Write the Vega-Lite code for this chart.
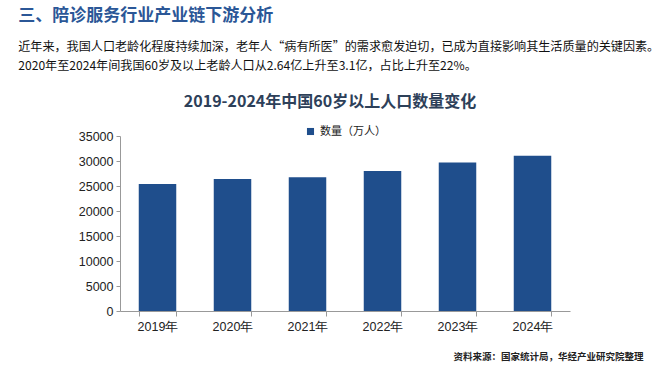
{
  "$schema": "https://vega.github.io/schema/vega-lite/v6.json",
  "padding": {"left": 18, "top": 6, "right": 2, "bottom": 4},
  "background": "white",
  "title": {
    "text": "三、陪诊服务行业产业链下游分析",
    "subtitle": ["近年来，我国人口老龄化程度持续加深，老年人“病有所医”的需求愈发迫切，已成为直接影响其生活质量的关键因素。", "2020年至2024年间我国60岁及以上老龄人口从2.64亿上升至3.1亿，占比上升至22%。"],
    "anchor": "start",
    "dx": -60,
    "font": "Noto Sans CJK SC",
    "fontSize": 17,
    "fontWeight": "bold",
    "color": "#2b5797",
    "subtitleFont": "Noto Sans CJK SC",
    "subtitleFontSize": 12.1,
    "subtitleColor": "#111111",
    "subtitleLineHeight": 19,
    "subtitlePadding": 16,
    "offset": 21
  },
  "vconcat": [
    {
      "width": 450,
      "height": 175,
      "title": {
        "text": "2019-2024年中国60岁以上人口数量变化",
        "anchor": "middle",
        "dx": -15,
        "font": "Noto Sans CJK SC",
        "fontSize": 16,
        "fontWeight": "bold",
        "color": "#2d4059",
        "offset": 20
      },
      "data": {
        "values": [
          {"year": "2019年", "value": 25388, "series": "数量（万人）"},
          {"year": "2020年", "value": 26402, "series": "数量（万人）"},
          {"year": "2021年", "value": 26736, "series": "数量（万人）"},
          {"year": "2022年", "value": 28004, "series": "数量（万人）"},
          {"year": "2023年", "value": 29697, "series": "数量（万人）"},
          {"year": "2024年", "value": 31031, "series": "数量（万人）"}
        ]
      },
      "mark": {"type": "bar"},
      "encoding": {
        "x": {
          "field": "year",
          "type": "nominal",
          "sort": null,
          "scale": {"paddingInner": 0.5, "paddingOuter": 0.25},
          "axis": {
            "title": "资料来源：国家统计局，华经产业研究院整理",
            "titleAnchor": "end",
            "titleAlign": "right",
            "titleX": 523,
            "titleFont": "Noto Sans CJK SC",
            "titleFontSize": 9.5,
            "titleFontWeight": "bold",
            "titleColor": "#222222",
            "titlePadding": 19,
            "labelAngle": 0,
            "labelFont": "Liberation Sans",
            "labelFontSize": 12.5,
            "labelColor": "#222222",
            "labelPadding": 4,
            "tickBand": "extent",
            "tickSize": 5,
            "tickColor": "#999999",
            "domainColor": "#999999"
          }
        },
        "y": {
          "field": "value",
          "type": "quantitative",
          "scale": {"domain": [0, 35000]},
          "axis": {
            "title": null,
            "values": [0, 5000, 10000, 15000, 20000, 25000, 30000, 35000],
            "grid": false,
            "format": "d",
            "labelFont": "Liberation Sans",
            "labelFontSize": 12.5,
            "labelColor": "#222222",
            "labelPadding": 3,
            "tickSize": 4,
            "tickColor": "#999999",
            "domainColor": "#999999"
          }
        },
        "color": {
          "field": "series",
          "type": "nominal",
          "scale": {"range": ["#1f4e8c"]},
          "legend": {
            "title": null,
            "orient": "top",
            "direction": "horizontal",
            "symbolType": "square",
            "symbolSize": 50,
            "labelFont": "Noto Sans CJK SC",
            "labelFontSize": 11,
            "labelColor": "#222222",
            "offset": -43
          }
        }
      }
    }
  ],
  "config": {
    "view": {"stroke": null},
    "legend": {"layout": {"top": {"anchor": "middle"}}}
  }
}
